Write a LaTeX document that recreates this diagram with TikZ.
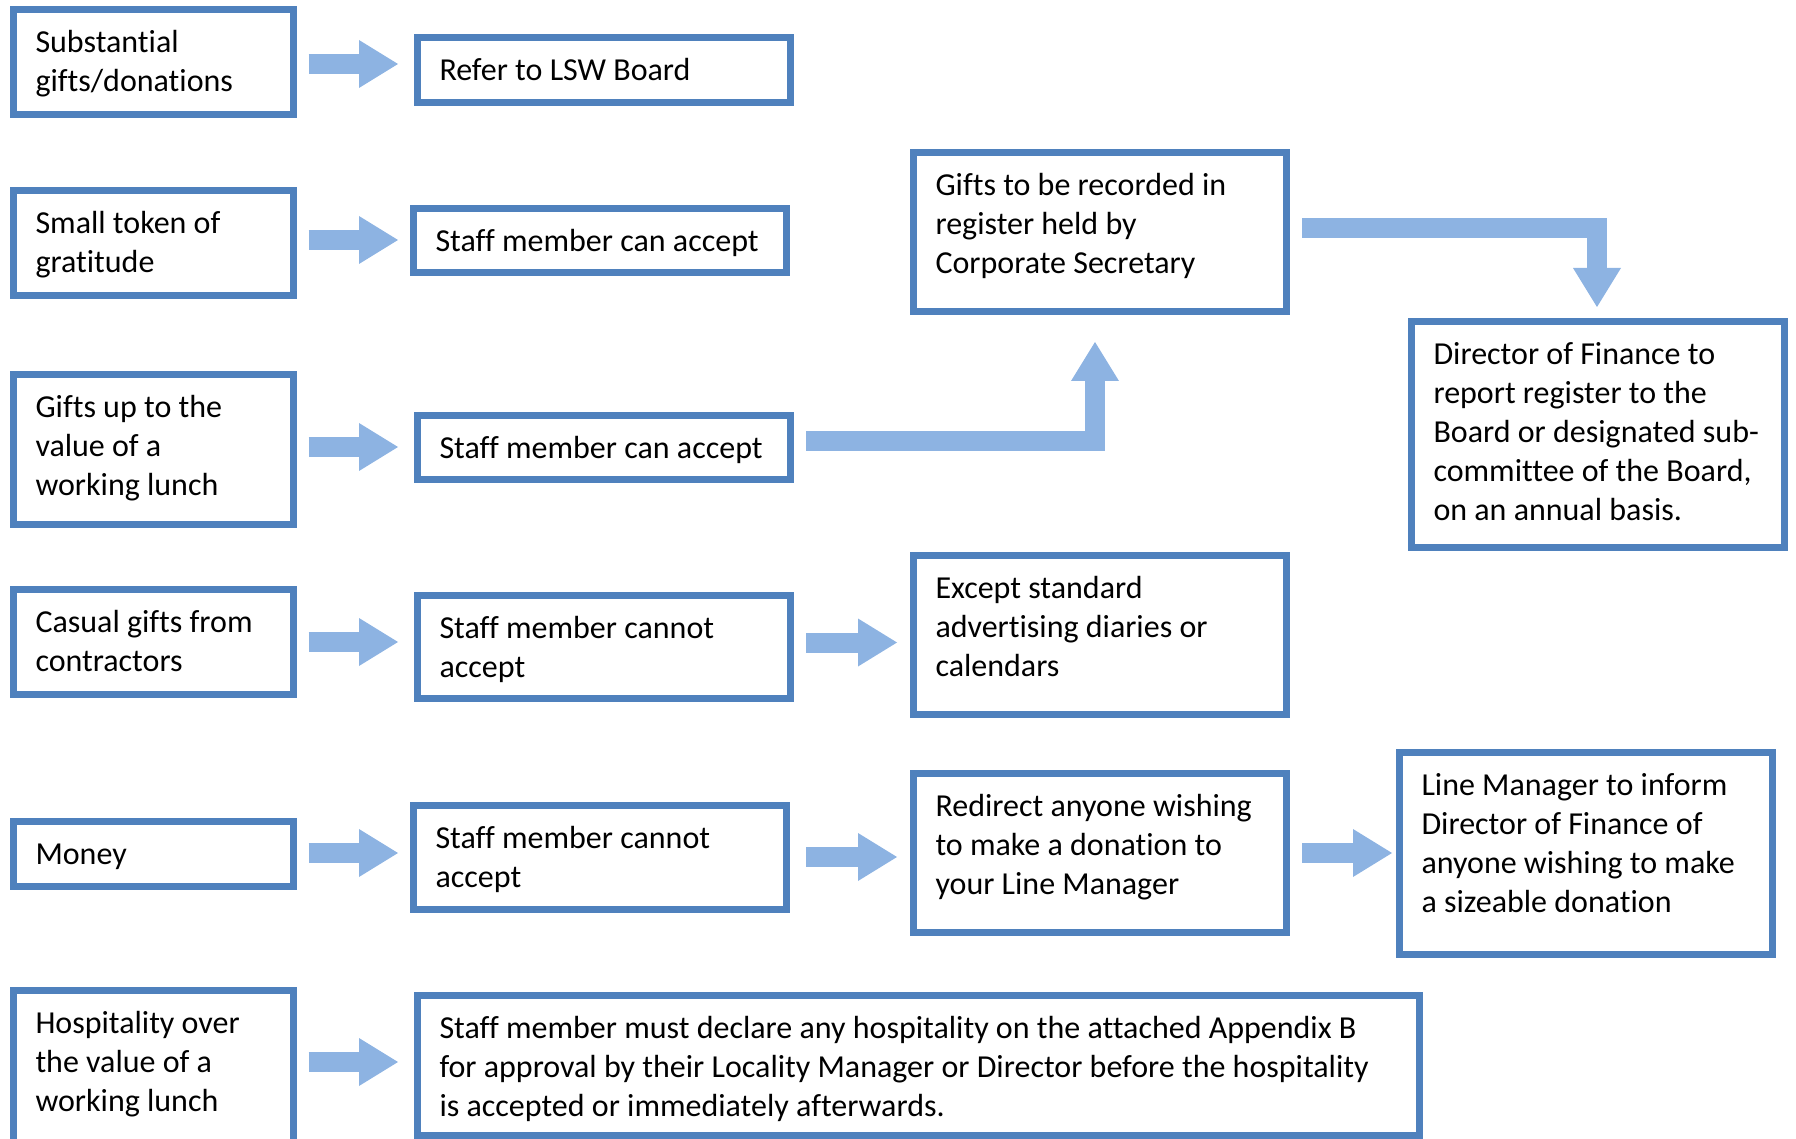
\documentclass[tikz,border=0pt]{standalone}
\usepackage{fontspec}
\setmainfont{Carlito}[Ligatures=CommonOff]
\usetikzlibrary{arrows.meta,calc}
\definecolor{boxblue}{HTML}{4F81BD}
\definecolor{arrblue}{HTML}{8DB3E2}
% #1 inner height, #2 text width, #3 text (top aligned)
\newcommand\btext[3]{\makebox[#2][l]{\parbox[c][#1][t]{20cm}{\vspace*{8pt}\strut #3}}}
% horizontal block connector: from, to, dy (px), gap after from, gap before to
\newcommand\hconn[5]{\draw[blk] let \p1=($(#1.east)+(#4,#3)$), \p2=($(#2.west)+(-#5,0)$) in (\p1) -- (\x2,\y1);}
\begin{document}
\begin{tikzpicture}[x=0.5pt,y=-0.5pt,
  bx/.style={draw=boxblue,line width=3.5pt,anchor=north west,inner xsep=11pt,inner ysep=0pt,outer sep=0pt,
             font=\fontsize{16pt}{19.5pt}\selectfont,text=black},
  blk/.style={draw=arrblue,line width=10pt,line join=miter,
              -{Triangle[width=24pt,length=19.5pt,line width=0pt]}}]
\useasboundingbox (0,0) rectangle (1796,1139);
\clip (0,0) rectangle (1796,1139);

% left column
\node[bx] (A1) at (13.5,9.5)   {\btext{52.5pt}{118pt}{Substantial\\gifts/donations}};
\node[bx] (A2) at (13.5,190.5) {\btext{52.5pt}{118pt}{Small token of\\gratitude}};
\node[bx] (A3) at (13.5,374.5) {\btext{75pt}{118pt}{Gifts up to the\\value of a\\working lunch}};
\node[bx] (A4) at (13.5,589.5) {\btext{52.5pt}{118pt}{Casual gifts from\\contractors}};
\node[bx] (A5) at (13.5,821.5) {\btext{32.5pt}{118pt}{Money}};
\node[bx] (A6) at (13.5,990.5) {\btext{78pt}{118pt}{Hospitality over\\the value of a\\working lunch}};

% second column
\node[bx] (B1) at (417.5,37.5)  {\btext{32.5pt}{164.5pt}{Refer to LSW Board}};
\node[bx] (B2) at (413.5,208.5) {\btext{32pt}{164.5pt}{Staff member can accept}};
\node[bx] (B3) at (417.5,415.5) {\btext{32pt}{164.5pt}{Staff member can accept}};
\node[bx] (B4) at (417.5,595.5) {\btext{51.5pt}{164.5pt}{Staff member cannot\\accept}};
\node[bx] (B5) at (413.5,805.5) {\btext{52pt}{164.5pt}{Staff member cannot\\accept}};
\node[bx] (B6) at (417.5,995.5) {\btext{70pt}{479pt}{Staff member must declare any hospitality on the attached Appendix B\\for approval by their Locality Manager or Director before the hospitality\\is accepted or immediately afterwards.}};

% third column
\node[bx] (C1) at (913.5,152.5) {\btext{79.5pt}{164.5pt}{Gifts to be recorded in\\register held by\\Corporate Secretary}};
\node[bx] (C2) at (913.5,555.5) {\btext{79.5pt}{164.5pt}{Except standard\\advertising diaries or\\calendars}};
\node[bx] (C3) at (913.5,773.5) {\btext{79.5pt}{164.5pt}{Redirect anyone wishing\\to make a donation to\\your Line Manager}};

% fourth column
\node[bx] (D1) at (1411.5,321.5) {\btext{113pt}{164.5pt}{Director of Finance to\\report register to the\\Board or designated sub-\\committee of the Board,\\on an annual basis.}};
\node[bx] (D2) at (1399.5,752.5) {\btext{101pt}{164.5pt}{Line Manager to inform\\Director of Finance of\\anyone wishing to make\\a sizeable donation}};

% connectors
\hconn{A1}{B1}{2}{15}{19.5}
\hconn{A2}{B2}{-3}{15}{15.5}
\hconn{A3}{B3}{-2.5}{15}{19.5}
\hconn{A4}{B4}{0}{15}{19.5}
\hconn{A5}{B5}{-1}{15}{15.5}
\hconn{A6}{B6}{-6.5}{15}{19.5}
\hconn{B4}{C2}{-4.5}{15.5}{16.5}
\hconn{B5}{C3}{-0.5}{19.5}{16.5}
\hconn{C3}{D2}{0}{15.5}{7.5}

\draw[blk] let \p1=($(B3.east)+(15.5,-6)$), \p2=($(C1.south)+(-5,30.5)$) in
  (\p1) -- (\x2,\y1) -- (\p2);
\draw[blk] let \p1=($(C1.east)+(15.5,-3.5)$), \p2=($(D1.north)+(-1,-14.5)$) in
  (\p1) -- (\x2,\y1) -- (\p2);
\end{tikzpicture}
\end{document}
